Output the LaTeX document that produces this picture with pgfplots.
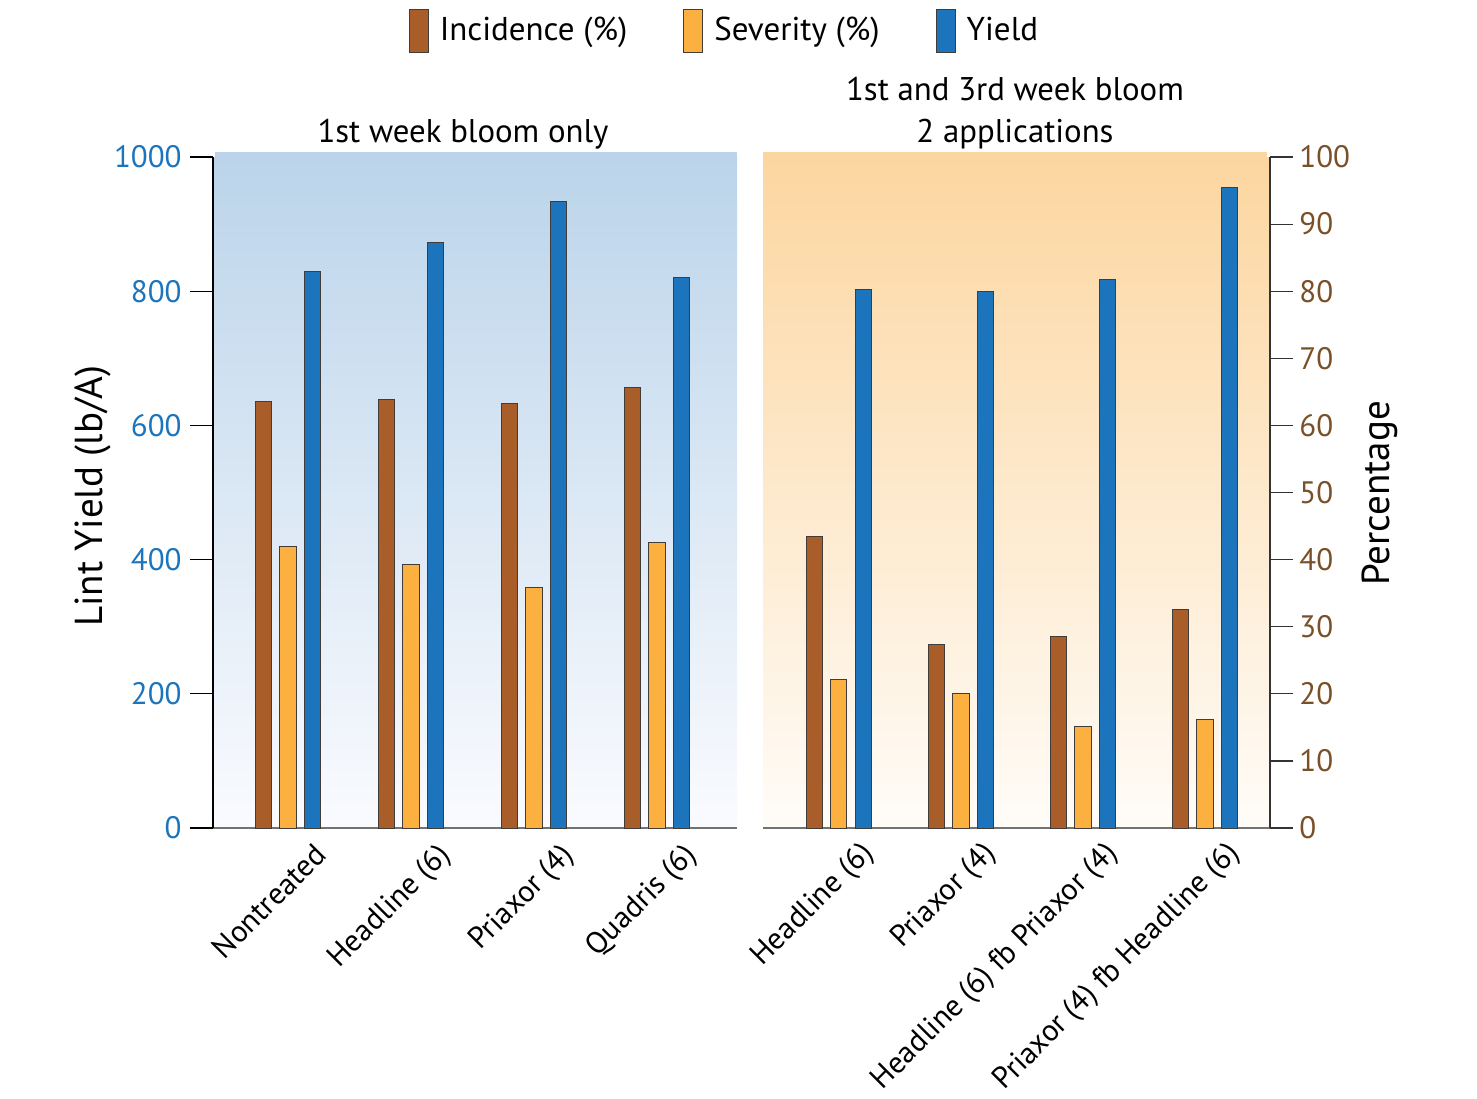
\documentclass[border=0pt]{standalone}
\usepackage{fontspec}
\setmainfont{PT Sans}
\usepackage{pgfplots}
\pgfplotsset{compat=1.18}
\usepackage{pgfplotstable}
\usetikzlibrary{shadings}

\definecolor{cinc}{RGB}{169,94,42}
\definecolor{csev}{RGB}{251,176,64}
\definecolor{cyld}{RGB}{28,117,188}
\definecolor{barline}{RGB}{65,60,55}
\definecolor{lbgtop}{RGB}{187,212,234}
\definecolor{lbgbot}{RGB}{250,251,255}
\definecolor{rbgtop}{RGB}{252,214,160}
\definecolor{rbgbot}{RGB}{255,252,248}
\definecolor{cbluetxt}{RGB}{28,117,188}
\definecolor{cbrowntxt}{RGB}{122,80,40}

\pgfplotstableread{
x inc sev yld
0 63.5 42.0 829
1 63.9 39.3 872
2 63.2 35.8 934
3 65.6 42.6 821
}\leftdata
\pgfplotstableread{
x inc sev yld
0 43.5 22.1 803
1 27.3 20.1 799
2 28.6 15.1 817
3 32.6 16.1 954
}\rightdata

\newcommand{\tickfont}{\fontsize{15.5}{18}\selectfont}
\newcommand{\xtickfont}{\fontsize{15.2}{18}\selectfont}
\newcommand{\titlefont}{\fontsize{16.4}{19}\selectfont}
\newcommand{\labelfont}{\fontsize{19.5}{23}\selectfont}
\pgfplotsset{
  mybar/.style={ybar, bar width=8.2pt, draw=barline, line width=0.5pt},
}

\begin{document}
\begin{tikzpicture}
\path[use as bounding box] (0pt,0pt) rectangle (738.5pt,-549pt);

% ---------- left panel: yield axis (visible) ----------
\begin{axis}[
  clip=false,
  at={(106.5pt,-414pt)}, anchor=south west,
  scale only axis, width=262pt, height=335.5pt,
  xmin=-0.61, xmax=3.65, ymin=0, ymax=1000,
  axis x line*=bottom, axis y line*=left,
  axis line style={-},
  x axis line style={draw=black!55, line width=0.6pt},
  y axis line style={draw=black, line width=0.6pt},
  axis background/.style={top color=lbgtop, bottom color=lbgbot},
  tick align=outside, major tick length=11.5pt,
  ytick={0,200,...,1000},
  ytick style={draw=black, line width=0.6pt},
  xtick={0,1,2,3},
  xtick style={draw=none},
  xticklabels={Nontreated, Headline (6), Priaxor (4), Quadris (6)},
  xticklabel style={font=\xtickfont, xshift=12.5pt, yshift=5pt, rotate=45, anchor=north east, inner sep=0pt},
  yticklabel style={font=\tickfont, text=cbluetxt, inner sep=4pt},
  /pgf/number format/assume math mode=true,
  /pgf/number format/1000 sep={},
  legend style={at={(0.978,1.1885)}, anchor=center, draw=none, fill=none,
    legend columns=3, font=\fontsize{16.5}{19}\selectfont,
    /tikz/every odd column/.append style={column sep=3.5pt},
    /tikz/every even column/.append style={column sep=26pt}},
  legend image code/.code={\draw[#1] (0pt,-10.75pt) rectangle (9.5pt,10.75pt);},
]
\fill[lbgtop] (rel axis cs:0.004,0.999) rectangle (rel axis cs:1,1.008);
\addlegendimage{fill=cinc, draw=barline, line width=0.5pt}
\addlegendentry{Incidence (\%)}
\addlegendimage{fill=csev, draw=barline, line width=0.5pt}
\addlegendentry{Severity (\%)}
\addlegendimage{fill=cyld, draw=barline, line width=0.5pt}
\addlegendentry{Yield}
\addplot[mybar, bar shift=12.25pt, fill=cyld, forget plot] table[x=x,y=yld]{\leftdata};
\end{axis}

% ---------- left panel: percentage overlay ----------
\begin{axis}[
  at={(106.5pt,-414pt)}, anchor=south west,
  scale only axis, width=262pt, height=335.5pt,
  xmin=-0.61, xmax=3.65, ymin=0, ymax=100,
  hide axis,
]
\addplot[mybar, bar shift=-12.25pt, fill=cinc] table[x=x,y=inc]{\leftdata};
\addplot[mybar, bar shift=0pt, fill=csev] table[x=x,y=sev]{\leftdata};
\end{axis}

% ---------- right panel: percentage axis (visible) ----------
\begin{axis}[
  clip=false,
  at={(381.5pt,-414pt)}, anchor=south west,
  scale only axis, width=253.5pt, height=335.5pt,
  xmin=-0.62, xmax=3.532, ymin=0, ymax=100,
  axis x line*=bottom, axis y line*=right,
  axis line style={-},
  x axis line style={draw=black!55, line width=0.6pt},
  y axis line style={draw=black!80, line width=0.6pt},
  axis background/.style={top color=rbgtop, bottom color=rbgbot},
  tick align=outside, major tick length=11.5pt,
  ytick={0,10,...,100},
  ytick style={draw=black!80, line width=0.6pt},
  xtick={0,1,2,3},
  xtick style={draw=none},
  xticklabels={Headline (6), Priaxor (4), Headline (6) fb Priaxor (4), Priaxor (4) fb Headline (6)},
  xticklabel style={font=\xtickfont, xshift=10pt, yshift=6pt, rotate=45, anchor=north east, inner sep=0pt},
  yticklabel style={font=\tickfont, text=cbrowntxt, inner sep=3pt},
  /pgf/number format/assume math mode=true,
]
\fill[rbgtop] (rel axis cs:0,0.999) rectangle (rel axis cs:0.994,1.008);
\addplot[mybar, bar shift=-12.25pt, fill=cinc] table[x=x,y=inc]{\rightdata};
\addplot[mybar, bar shift=0pt, fill=csev] table[x=x,y=sev]{\rightdata};
\end{axis}

% ---------- right panel: yield overlay ----------
\begin{axis}[
  at={(381.5pt,-414pt)}, anchor=south west,
  scale only axis, width=253.5pt, height=335.5pt,
  xmin=-0.62, xmax=3.532, ymin=0, ymax=1000,
  hide axis,
]
\addplot[mybar, bar shift=12.25pt, fill=cyld] table[x=x,y=yld]{\rightdata};
\end{axis}

% ---------- titles and axis labels ----------
\node[anchor=base, font=\titlefont] at (231.5pt,-71pt) {1st week bloom only};
\node[anchor=base, font=\titlefont] at (507.5pt,-50pt) {1st and 3rd week bloom};
\node[anchor=base, font=\titlefont] at (507.5pt,-71pt) {2 applications};
\node[rotate=90, anchor=base, font=\labelfont] at (51pt,-248pt) {Lint Yield (lb/A)};
\node[rotate=90, anchor=base, font=\labelfont] at (694.5pt,-246.75pt) {Percentage};
\end{tikzpicture}
\end{document}
